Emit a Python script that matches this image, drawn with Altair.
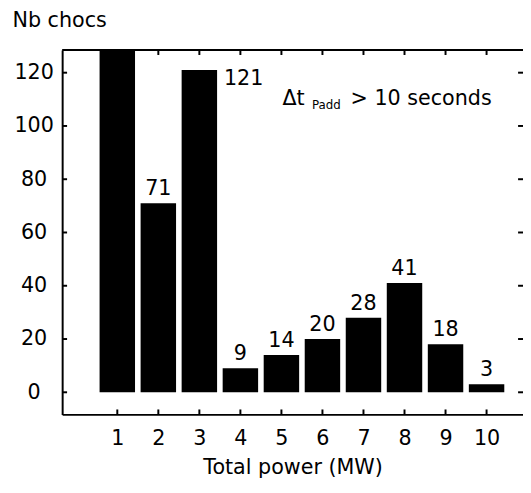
import altair as alt
import pandas as pd

# ---- data ----
power = [1, 2, 3, 4, 5, 6, 7, 8, 9, 10]
chocs = [150, 71, 121, 9, 14, 20, 28, 41, 18, 3]   # bar 1 is clipped at the top
y_ticks = [0, 20, 40, 60, 80, 100, 120]
x_ticks = [1, 2, 3, 4, 5, 6, 7, 8, 9, 10]

W, H = 468, 370
FONT = "DejaVu Sans"
FS = 21
HALF = 0.432
YMAX = 128.5

df = pd.DataFrame({"power": power, "chocs": chocs})
yt = pd.DataFrame({"v": y_ticks})
xt = pd.DataFrame({"p": x_ticks})
one = pd.DataFrame({"a": [0]})

xscale = alt.Scale(domain=[-0.344, 10.888], nice=False, zero=False)
yscale = alt.Scale(domain=[-8.3, YMAX], nice=False, zero=False)

x_axis = alt.Axis(
    values=x_ticks, format="d", title="Total power (MW)", ticks=False, tickSize=0,
    grid=False, domain=True, domainColor="black", domainWidth=2,
    labelFont=FONT, labelFontSize=FS, labelColor="black", labelPadding=14,
    labelAngle=0, labelFlush=False,
    titleFont=FONT, titleFontSize=FS, titleFontWeight="normal", titleColor="black",
    titleBaseline="alphabetic", titleY=60,
)
y_axis = alt.Axis(
    values=y_ticks, format="d", title="Nb chocs", ticks=False, tickSize=0,
    grid=False, domain=True, domainColor="black", domainWidth=2,
    labelFont=FONT, labelFontSize=FS, labelColor="black", labelPadding=29,
    labelAlign="center", labelBaseline="middle", labelFlush=False,
    titleFont=FONT, titleFontSize=FS, titleFontWeight="normal", titleColor="black",
    titleAngle=0, titleAlign="left", titleBaseline="alphabetic", titleX=-51, titleY=-24,
)


def X(field):
    return alt.X(field, scale=xscale, axis=x_axis)


def Y(field):
    return alt.Y(field, scale=yscale, axis=y_axis)


bars = alt.Chart(df).transform_calculate(
    x0=f"datum.power - {HALF}", x1=f"datum.power + {HALF}", zero="0"
).mark_bar(color="black", clip=True).encode(
    x=X("x0:Q"),
    x2="x1:Q",
    y=Y("chocs:Q"),
    y2="zero:Q",
)

labels_top = alt.Chart(df).transform_filter(
    f"datum.power != 3 && datum.chocs < {YMAX}"
).mark_text(
    font=FONT, fontSize=FS, color="black", baseline="alphabetic", align="center", dy=-8
).encode(
    x=X("power:Q"),
    y=Y("chocs:Q"),
    text="chocs:Q",
)

label_side = alt.Chart(df).transform_filter("datum.power == 3").transform_calculate(
    xr=f"datum.power + {HALF}"
).mark_text(
    font=FONT, fontSize=FS, color="black", baseline="alphabetic", align="left", dx=7, dy=15.5
).encode(
    x=X("xr:Q"),
    y=Y("chocs:Q"),
    text="chocs:Q",
)

rule_style = dict(color="black", strokeWidth=2)
left_ticks = alt.Chart(yt).mark_rule(**rule_style).encode(
    y=Y("v:Q"), x=alt.value(0), x2=alt.value(5))
right_ticks = alt.Chart(yt).mark_rule(**rule_style).encode(
    y=Y("v:Q"), x=alt.value(W - 5), x2=alt.value(W))
top_ticks = alt.Chart(xt).mark_rule(**rule_style).encode(
    x=X("p:Q"), y=alt.value(0), y2=alt.value(5))
bottom_ticks = alt.Chart(xt).mark_rule(**rule_style).encode(
    x=X("p:Q"), y=alt.value(H - 5), y2=alt.value(H))
top_line = alt.Chart(one).mark_rule(**rule_style).encode(
    x=alt.value(0), x2=alt.value(W), y=alt.value(0))

ann1 = alt.Chart(one).mark_text(font=FONT, fontSize=FS, color="black", align="left",
                                baseline="alphabetic").encode(
    x=alt.value(223.7), y=alt.value(56), text=alt.value("\u0394t"))
ann2 = alt.Chart(one).mark_text(font=FONT, fontSize=12, color="black", align="left",
                                baseline="alphabetic").encode(
    x=alt.value(253.7), y=alt.value(60), text=alt.value("Padd"))
ann3 = alt.Chart(one).mark_text(font=FONT, fontSize=FS, color="black", align="center",
                                baseline="alphabetic").encode(
    x=alt.value(364.5), y=alt.value(56), text=alt.value("> 10 seconds"))

chart = alt.layer(
    bars, labels_top, label_side, left_ticks, right_ticks, top_ticks, bottom_ticks,
    top_line, ann1, ann2, ann3
).properties(
    width=W, height=H,
    autosize=alt.AutoSizeParams(type="none"),
    padding={"left": 55, "top": 39, "right": 0, "bottom": 68},
    background="white",
).configure_view(stroke=None)

chart.save("out.html", embed_options={"renderer": "svg", "actions": False})
